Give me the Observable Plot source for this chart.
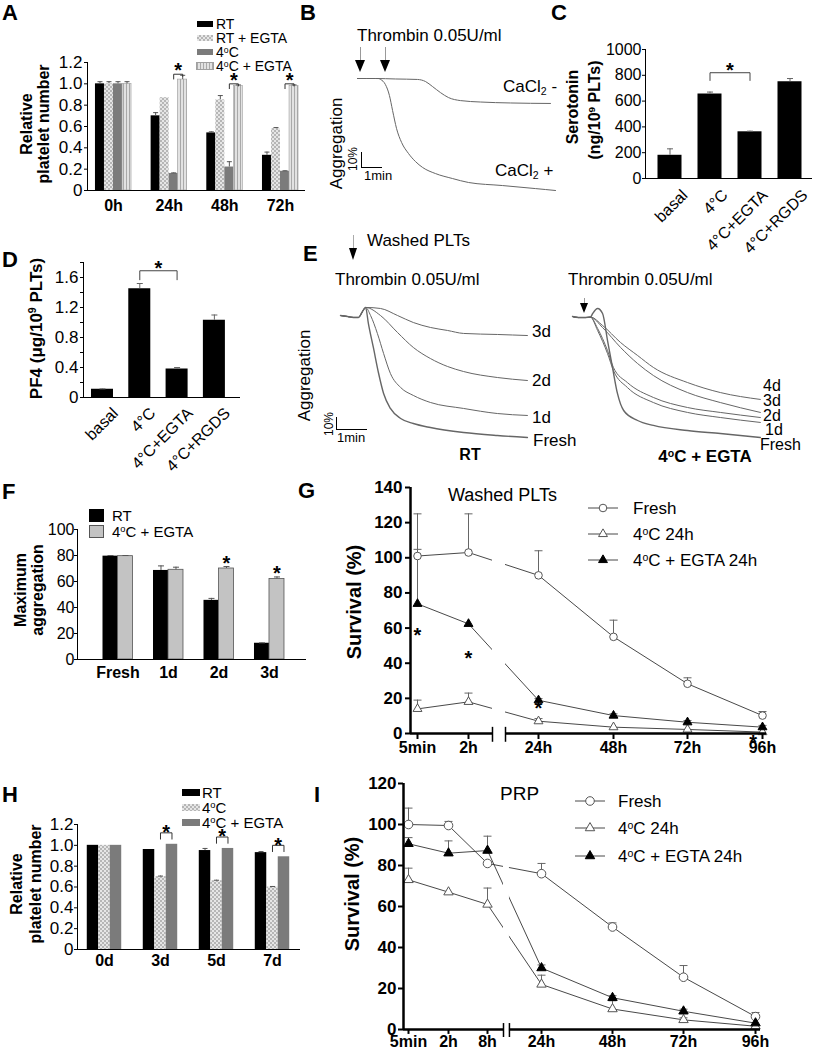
<!DOCTYPE html>
<html>
<head>
<meta charset="utf-8">
<script src="https://cdn.jsdelivr.net/npm/d3@7"></script>
<script src="https://cdn.jsdelivr.net/npm/@observablehq/plot@0.6"></script>
<style>
html,body{margin:0;padding:0;background:#fff;}
#fig{position:relative;width:816px;height:1050px;overflow:hidden;background:#fff;font-family:"Liberation Sans",Arial,Helvetica,sans-serif;color:#000;}
#fig .t{position:absolute;white-space:nowrap;}
#fig sup{font-size:0.62em;vertical-align:0.5em;line-height:0;}
#fig sub{font-size:0.62em;vertical-align:-0.28em;line-height:0;}
#fig svg{position:absolute;overflow:visible;max-width:none;background:transparent;}
.thick g[aria-label^="y-axis"] line,.thick g[aria-label^="y-axis"] path{stroke-width:2px;}
</style>
</head>
<body>
<div id="fig"></div>
<script>
// ================= DATA =================
// Panel A – relative platelet number
const aGroups = ["0h", "24h", "48h", "72h"];
const aSeriesLabels = ["RT", "RT + EGTA", "4°C", "4°C + EGTA"];
const aRT = [1.00, 0.70, 0.54, 0.33];
const aRTErr = [0.02, 0.03, 0.01, 0.03];
const aRTEGTA = [1.00, 0.87, 0.85, 0.58];
const aRTEGTAErr = [0.02, 0.005, 0.04, 0.01];
const a4C = [1.00, 0.16, 0.22, 0.18];
const a4CErr = [0.02, 0.005, 0.05, 0.005];
const a4CEGTA = [1.00, 1.04, 0.98, 0.98];
const a4CEGTAErr = [0.02, 0.04, 0.01, 0.01];
const aSig = [1, 2, 3];
const aYTicks = [0, 0.2, 0.4, 0.6, 0.8, 1.0, 1.2];

// Panel B – aggregation traces (t in min, aggregation in %)
const bMinusT = [0, 0.86, 1.81, 2.86, 3.24, 3.57, 3.95, 4.33, 4.90, 5.86, 7.29, 9.19];
const bMinusA = [0, 0, 0.3, 0.6, 1.9, 5.0, 8.8, 11.9, 13.8, 14.7, 15.3, 15.6];
const bPlusT = [0, 0.86, 1.0, 1.10, 1.33, 1.52, 1.67, 1.86, 2.10, 2.43, 2.76, 3.10, 3.71, 4.52, 5.29, 6.90, 8.48, 9.43];
const bPlusA = [0, 0, 0, 0.6, 3.8, 10.6, 20.0, 31.3, 40.0, 46.9, 51.9, 55.6, 59.4, 62.5, 65.0, 66.9, 68.8, 70.0];

// Panel C – serotonin
const cCats = ["basal", "4°C", "4°C+EGTA", "4°C+RGDS"];
const cVals = [180, 655, 362, 750];
const cErr = [50, 15, 5, 25];
const cYTicks = [0, 200, 400, 600, 800, 1000];

// Panel D – PF4
const dCats = ["basal", "4°C", "4°C+EGTA", "4°C+RGDS"];
const dVals = [0.11, 1.45, 0.38, 1.03];
const dErr = [0.005, 0.07, 0.02, 0.07];
const dYTicks = [0, 0.2, 0.4, 0.6, 0.8, 1.0, 1.2, 1.4, 1.6, 1.8];

// Panel E – aggregation traces, RT (left) and 4°C + EGTA (right)
const eLBaseT = [0, 0.23, 0.42, 0.58, 0.71, 0.81];
const eLBaseA = [0, 0.8, 1.5, 1.5, -3.1, -6.2];
const eL3T = [1.29, 1.84, 2.35, 2.90, 3.45, 3.97, 5.06, 6.03];
const eL3A = [-5.4, 0, 5.4, 9.2, 11.5, 13.8, 14.6, 15.4];
const eL2T = [1.29, 1.84, 2.35, 2.90, 3.45, 3.97, 5.06, 6.03];
const eL2A = [0, 13.1, 24.6, 33.1, 39.2, 43.1, 47.7, 50.0];
const eL1T = [0.97, 1.19, 1.39, 1.61, 1.94, 2.35, 2.90, 3.97, 5.06, 6.03];
const eL1A = [0, 13.8, 29.2, 44.6, 55.4, 61.5, 66.9, 71.5, 75.4, 76.9];
const eLFT = [0.90, 1.06, 1.23, 1.39, 1.61, 1.94, 2.35, 2.90, 3.97, 5.06, 6.03];
const eLFA = [6.2, 24.6, 44.6, 60.0, 71.5, 79.2, 83.1, 86.2, 90.0, 92.3, 93.8];
const eRBaseT = [0, 0.19, 0.42, 0.58];
const eRBaseA = [0, 0.8, 0.8, 0.5];
const eRFT = [0.65, 0.81, 0.97, 1.13, 1.29, 1.45, 1.65, 2.10, 2.61, 3.71, 4.77, 6.06];
const eRFA = [-2.3, -6.2, -2.3, 18.5, 39.2, 59.2, 72.3, 80.0, 83.8, 87.7, 90.0, 93.1];
const eR1T = [0.81, 1.13, 1.32, 1.77, 2.61, 3.71, 4.77, 6.06];
const eR1A = [10.8, 28.5, 41.5, 54.6, 66.2, 73.8, 77.7, 81.5];
const eR2T = [0.81, 1.13, 1.32, 1.77, 2.61, 3.71, 4.77, 6.06];
const eR2A = [9.2, 26.2, 39.2, 50.8, 62.3, 70.0, 73.8, 77.7];
const eR3T = [0.97, 1.55, 2.10, 2.61, 3.71, 4.77, 6.06];
const eR3A = [8.5, 23.8, 36.2, 45.4, 58.5, 66.2, 73.8];
const eR4T = [0.97, 1.55, 2.10, 2.61, 3.71, 4.77, 6.06];
const eR4A = [6.9, 20.0, 30.0, 39.2, 50.8, 58.5, 63.8];

// Panel F – maximum aggregation
const fGroups = ["Fresh", "1d", "2d", "3d"];
const fSeriesLabels = ["RT", "4°C + EGTA"];
const fRT = [79.5, 68.5, 45.5, 12.5];
const fRTErr = [0.5, 3.5, 1.5, 0.3];
const fEG = [79.5, 69, 70, 62];
const fEGErr = [0.5, 2, 1.5, 1.5];
const fSig = [2, 3];
const fYTicks = [0, 20, 40, 60, 80, 100];

// Panel G – survival, washed PLTs
const gTimes = [1 / 12, 2, 24, 48, 72, 96];
const gTimeLabels = ["5min", "2h", "24h", "48h", "72h", "96h"];
const gFresh = [101, 103, 90, 55, 28.3, 10.2];
const gFreshErr = [24, 22, 14, 9.5, 3.4, 2.3];
const g4C = [14, 18, 7, 3.6, 2.3, 0.8];
const g4CErr = [5, 5, 1.5, 0.5, 0.5, 0.3];
const g4CEGTA = [73.8, 62.4, 18.9, 10.2, 6.4, 3.6];
const g4CEGTAErr = [31, 0.5, 1, 1, 1, 1];
const gStarT = [1 / 12, 2, 24, 93];
const gStarV = [58.6, 45.5, 17, -2.3];
const gYTicks = [0, 20, 40, 60, 80, 100, 120, 140];
const survLabels = ["Fresh", "4°C 24h", "4°C + EGTA 24h"];

// Panel H – relative platelet number (days)
const hGroups = ["0d", "3d", "5d", "7d"];
const hSeriesLabels = ["RT", "4°C", "4°C + EGTA"];
const hRT = [1.00, 0.96, 0.95, 0.93];
const hRTErr = [0.005, 0.005, 0.02, 0.01];
const h4C = [1.00, 0.70, 0.66, 0.60];
const h4CErr = [0.005, 0.005, 0.005, 0.005];
const h4CEGTA = [1.00, 1.01, 0.97, 0.89];
const h4CEGTAErr = [0.005, 0.005, 0.005, 0.005];
const hSig = [1, 2, 3];
const hYTicks = [0, 0.2, 0.4, 0.6, 0.8, 1.0, 1.2];

// Panel I – survival, PRP
const iTimes = [1 / 12, 2, 8, 24, 48, 72, 96];
const iTimeLabels = ["5min", "2h", "8h", "24h", "48h", "72h", "96h"];
const iFresh = [100, 99.5, 81, 76, 50, 25.5, 6.3];
const iFreshErr = [8, 2, 1, 5, 2, 5.7, 2];
const i4C = [73, 67, 61, 22, 10, 4.7, 1.6];
const i4CErr = [5.7, 0.3, 8, 4.5, 4, 1, 0.5];
const i4CEGTA = [90.6, 86, 87.3, 30, 15.5, 8.9, 3.1];
const i4CEGTAErr = [3, 6, 7, 1.5, 1, 1, 0.5];
const iYTicks = [0, 20, 40, 60, 80, 100, 120];

// ================= HELPERS =================
const FONT = '"Liberation Sans", Arial, Helvetica, sans-serif';
const fig = document.getElementById("fig");
const deg = s => s.replace(/°/g, "<sup>o</sup>");
const fmtDec = d => (d === 0 ? "0" : d.toFixed(1));

function txt(html, x, y, o = {}) {
  const size = o.size || 16;
  const d = document.createElement("div");
  d.className = "t";
  d.innerHTML = html;
  d.style.left = x + "px";
  d.style.top = (y - size / 2) + "px";
  d.style.fontSize = size + "px";
  d.style.lineHeight = size + "px";
  d.style.fontWeight = o.weight || "normal";
  const tx = o.anchor === "middle" ? "-50%" : o.anchor === "end" ? "-100%" : "0";
  d.style.transform = `translateX(${tx})` + (o.rotate ? ` rotate(${o.rotate}deg)` : "");
  fig.appendChild(d);
  return d;
}
function box(x, y, w, h, css) {
  const d = document.createElement("div");
  d.style.cssText = `position:absolute;left:${x}px;top:${y}px;width:${w}px;height:${h}px;${css || ""}`;
  fig.appendChild(d);
  return d;
}
function arrow(x, y0, tip, headH, headW, lineColor) {
  if (tip - headH > y0) box(x - 0.5, y0, 1, tip - headH - y0 + 1, `background:${lineColor || "#999"}`);
  box(x - headW / 2, tip - headH, 0, 0,
    `border-left:${headW / 2}px solid transparent;border-right:${headW / 2}px solid transparent;border-top:${headH}px solid #000;`);
}
function scaleBar(x, yTop, yBottom, xRight) {
  box(x, yTop, 1.2, yBottom - yTop, "background:#000");
  box(x, yBottom - 1.2, xRight - x, 1.2, "background:#000");
}
function mount(svg, L, T, cls) {
  svg.style.left = L + "px";
  svg.style.top = T + "px";
  svg.style.background = "transparent";
  svg.style.overflow = "visible";
  svg.style.maxWidth = "none";
  if (cls) svg.classList.add(cls);
  fig.appendChild(svg);
  return svg;
}
function addPatterns(svg, p) {
  const defs = d3.select(svg).insert("defs", ":first-child");
  const ck = defs.append("pattern").attr("id", p + "chk").attr("patternUnits", "userSpaceOnUse").attr("width", 4).attr("height", 4);
  ck.append("rect").attr("width", 4).attr("height", 4).attr("fill", "#e6e6e6");
  ck.append("rect").attr("width", 2).attr("height", 2).attr("fill", "#b6b6b6");
  ck.append("rect").attr("x", 2).attr("y", 2).attr("width", 2).attr("height", 2).attr("fill", "#b6b6b6");
  const st = defs.append("pattern").attr("id", p + "str").attr("patternUnits", "userSpaceOnUse").attr("width", 3).attr("height", 4);
  st.append("rect").attr("width", 3).attr("height", 4).attr("fill", "#e2e2e2");
  st.append("rect").attr("width", 1).attr("height", 4).attr("fill", "#a9a9a9");
}
const capSym = {draw(ctx, size) { const r = Math.sqrt(size / Math.PI); ctx.moveTo(-r, 0); ctx.lineTo(r, 0); }};
const baseStyle = (extra = {}) => Object.assign({fontFamily: FONT, fontSize: "17px", color: "#000", background: "transparent", overflow: "visible"}, extra);

function barRows(series, w) {
  const n = series.length, rows = [];
  series.forEach((s, si) => s.vals.forEach((v, g) => {
    const c = g + (si - (n - 1) / 2) * w;
    rows.push({si, g, c, x1: c - w / 2, x2: c + w / 2, v, e: s.errs ? s.errs[g] : 0});
  }));
  return rows;
}
function barMarks(series, rows, capR, errColor) {
  const m = series.map((s, si) => Plot.rect(rows.filter(d => d.si === si),
    {x1: "x1", x2: "x2", y1: () => 0, y2: "v", fill: s.fill, stroke: s.stroke || "none", strokeWidth: s.sw || 1}));
  const er = rows.filter(d => d.e > 0.006 * (d.v || 1));
  m.push(Plot.ruleX(er, {x: "c", y1: "v", y2: d => d.v + d.e, stroke: errColor, strokeWidth: 1}));
  m.push(Plot.dot(er, {x: "c", y: d => d.v + d.e, r: capR, symbol: capSym, stroke: errColor, fill: "none", strokeWidth: 1}));
  return m;
}
function xLabels(labels, dy, size) {
  return Plot.text(labels, {x: (d, i) => i, y: () => 0, dy, text: d => d, fontWeight: "bold", fontSize: size});
}
function pts(t, a) { return t.map((x, i) => ({t: x, a: a[i]})); }

// ================= PANEL A =================
const aW = 0.162;
const aSer = [
  {vals: aRT, errs: aRTErr, fill: "#000"},
  {vals: aRTEGTA, errs: aRTEGTAErr, fill: "url(#Achk)"},
  {vals: a4C, errs: a4CErr, fill: "#7b7b7b"},
  {vals: a4CEGTA, errs: a4CEGTAErr, fill: "url(#Astr)", stroke: "#a0a0a0", sw: 0.6}
];
const aRows = barRows(aSer, aW);
const aBr = [], aStars = [];
aSig.forEach(g => {
  const xa = g + 0.5 * aW, xb = g + 1.5 * aW;
  const top = a4CEGTA[g] + a4CEGTAErr[g] + 0.01;
  aBr.push({k: g, x: xa, y: top - 0.045}, {k: g, x: xa, y: top}, {k: g, x: xb, y: top}, {k: g, x: xb, y: top - 0.02});
  aStars.push({x: g + aW, y: top + 0.08});
});
const svgA = Plot.plot({
  width: 310, height: 215, marginLeft: 87, marginRight: 5, marginTop: 62, marginBottom: 25,
  style: baseStyle(),
  x: {domain: [-0.467, 3.449], axis: null},
  y: {domain: [0, 1.2], ticks: aYTicks, tickFormat: fmtDec, tickSize: 3, tickPadding: 2, line: true, label: null},
  marks: [
    ...barMarks(aSer, aRows, 2.5, "#555"),
    Plot.ruleY([0]),
    Plot.line(aBr, {x: "x", y: "y", z: "k", stroke: "#333", strokeWidth: 1}),
    Plot.text(aStars, {x: "x", y: "y", text: () => "*", fontSize: 20, fontWeight: "bold", dy: 5}),
    xLabels(aGroups, 15, 16)
  ]
});
addPatterns(svgA, "A");
mount(svgA, 0, 0);

// ================= PANEL B =================
const traceStyle = {x: "t", y: "a", stroke: "#666", strokeWidth: 1, curve: "monotone-x"};
const svgB = Plot.plot({
  width: 200, height: 125, margin: 0,
  x: {domain: [0, 200 / 21], axis: null},
  y: {domain: [(195 - 78) / 1.6, (70 - 78) / 1.6], axis: null},
  marks: [
    Plot.line(pts(bMinusT, bMinusA), traceStyle),
    Plot.line(pts(bPlusT, bPlusA), traceStyle)
  ]
});
mount(svgB, 357, 70);

// ================= PANEL C =================
const cSer = [{vals: cVals, errs: cErr, fill: "#000"}];
const cRows = barRows(cSer, 0.6);
const cTop = Math.max(cVals[1] + cErr[1], cVals[2] + cErr[2]) + 150;
const cBr = [{x: 1, y: cTop - 60}, {x: 1, y: cTop}, {x: 2, y: cTop}, {x: 2, y: cTop - 60}];
const svgC = Plot.plot({
  width: 256, height: 260, marginLeft: 85, marginRight: 4, marginTop: 49, marginBottom: 82,
  style: baseStyle({fontSize: "16px"}),
  x: {domain: [-0.6125, 3.5625], axis: null},
  y: {domain: [0, 1000], ticks: cYTicks, tickFormat: d => String(d), tickSize: 3, tickPadding: 1, line: true, label: null},
  marks: [
    ...barMarks(cSer, cRows, 3, "#666"),
    Plot.ruleY([0]),
    Plot.line(cBr, {x: "x", y: "y", stroke: "#444", strokeWidth: 1}),
    Plot.text([0], {x: () => 1.5, y: () => cTop + 54, text: () => "*", fontSize: 20, fontWeight: "bold", dy: 5}),
    Plot.text(cCats, {x: (d, i) => i, y: () => 0, text: d => d, rotate: -45, textAnchor: "end", dx: 15, dy: 14, fontSize: 16})
  ]
});
mount(svgC, 560, 0);

// ================= PANEL D =================
const dSer = [{vals: dVals, errs: dErr, fill: "#000"}];
const dRows = barRows(dSer, 0.59);
const dTop = Math.max(dVals[1] + dErr[1], dVals[2] + dErr[2]) + 0.17;
const dBr = [{x: 1, y: dTop - 0.12}, {x: 1, y: dTop}, {x: 2, y: dTop}, {x: 2, y: dTop - 0.12}];
const svgD = Plot.plot({
  width: 245, height: 300, marginLeft: 83, marginRight: 5, marginTop: 72, marginBottom: 93,
  style: baseStyle(),
  x: {domain: [-0.509, 3.70], axis: null},
  y: {domain: [0, 1.8], ticks: dYTicks, tickFormat: d => (Math.round(d * 10) % 4 === 0 ? fmtDec(d) : ""), tickSize: 3, tickPadding: 2, line: true, label: null},
  marks: [
    ...barMarks(dSer, dRows, 3, "#666"),
    Plot.ruleY([0]),
    Plot.line(dBr, {x: "x", y: "y", stroke: "#444", strokeWidth: 1}),
    Plot.text([0], {x: () => 1.5, y: () => dTop + 0.09, text: () => "*", fontSize: 20, fontWeight: "bold", dy: 5}),
    Plot.text(dCats, {x: (d, i) => i, y: () => 0, text: d => d, rotate: -45, textAnchor: "end", dx: 13, dy: 13, fontSize: 16})
  ]
});
mount(svgD, 0, 190);

// ================= PANEL E =================
const eLeft = [[eL3T, eL3A], [eL2T, eL2A], [eL1T, eL1A], [eLFT, eLFA]];
const svgEL = Plot.plot({
  width: 190, height: 145, margin: 0,
  x: {domain: [0, 190 / 31], axis: null},
  y: {domain: [(445 - 315) / 1.3, (300 - 315) / 1.3], axis: null},
  marks: eLeft.map(([ts, as], k) => Plot.line(pts(eLBaseT.concat(ts), eLBaseA.concat(as)),
    Object.assign({}, traceStyle, {strokeWidth: k === 3 ? 1.4 : 1})))
});
mount(svgEL, 340, 300);
const eRight = [[eR4T, eR4A], [eR3T, eR3A], [eR2T, eR2A], [eR1T, eR1A], [eRFT, eRFA]];
const svgER = Plot.plot({
  width: 190, height: 145, margin: 0,
  x: {domain: [0, 190 / 31], axis: null},
  y: {domain: [(445 - 316) / 1.3, (300 - 316) / 1.3], axis: null},
  marks: eRight.map(([ts, as], k) => Plot.line(pts(eRBaseT.concat(ts), eRBaseA.concat(as)),
    Object.assign({}, traceStyle, {strokeWidth: k === 4 ? 1.4 : 1})))
});
mount(svgER, 572, 300);

// ================= PANEL F =================
const fW = 0.297;
const fSer = [
  {vals: fRT, errs: fRTErr, fill: "#000"},
  {vals: fEG, errs: fEGErr, fill: "#c3c3c3", stroke: "#555", sw: 0.8}
];
const fRows = barRows(fSer, fW);
const fStars = fSig.map(g => ({x: g + 0.5 * fW, y: fEG[g] + fEGErr[g] + 6.5}));
const svgF = Plot.plot({
  width: 310, height: 185, marginLeft: 77, marginRight: 4, marginTop: 29, marginBottom: 26,
  style: baseStyle({fontSize: "16px"}),
  x: {domain: [-0.802, 3.733], axis: null},
  y: {domain: [0, 100], ticks: fYTicks, tickFormat: d => String(d), tickSize: 3, tickPadding: 0, line: true, label: null},
  marks: [
    ...barMarks(fSer, fRows, 3, "#555"),
    Plot.ruleY([0]),
    Plot.text(fStars, {x: "x", y: "y", text: () => "*", fontSize: 20, fontWeight: "bold", dy: 5}),
    xLabels(fGroups, 13, 16)
  ]
});
mount(svgF, 0, 500);

// ================= SURVIVAL PANELS (G, I) =================
function survMarks(times, series, brk, capR, yGap) {
  const m = [];
  series.forEach(s => m.push(Plot.line(times.map((t, i) => ({t, v: s.vals[i]})), {x: "t", y: "v", stroke: "#333", strokeWidth: 0.9})));
  m.push(Plot.rect([0], {x1: () => brk[0], x2: () => brk[1], y1: () => yGap[0], y2: () => yGap[1], fill: "white"}));
  series.forEach(s => {
    const p = times.map((t, i) => ({t, v: s.vals[i], e: s.errs[i]})).filter(d => d.e > 0.6);
    m.push(Plot.ruleX(p, {x: "t", y1: "v", y2: d => d.v + d.e, stroke: "#666", strokeWidth: 1}));
    m.push(Plot.dot(p, {x: "t", y: d => d.v + d.e, r: capR, symbol: capSym, stroke: "#666", fill: "none", strokeWidth: 1}));
  });
  series.forEach(s => m.push(Plot.dot(times.map((t, i) => ({t, v: s.vals[i]})),
    {x: "t", y: "v", symbol: s.sym, r: s.r, fill: s.fill, stroke: s.stroke, strokeWidth: 1})));
  return m;
}

// ---- G ----
const gBreak = [9.54, 13.63];
const gXDomain = [-0.18, 1 / 12, 2, 24, 48, 72, 96, 97.3];
const gXRange = [110, 117, 168, 238, 313, 387, 462, 466];
const gSer = [
  {vals: gFresh, errs: gFreshErr, sym: "circle", fill: "white", stroke: "#555", r: 3.8},
  {vals: g4C, errs: g4CErr, sym: "triangle", fill: "white", stroke: "#555", r: 3.3},
  {vals: g4CEGTA, errs: g4CEGTAErr, sym: "triangle", fill: "#000", stroke: "#000", r: 3.3}
];
const svgG = Plot.plot({
  width: 516, height: 290, marginLeft: 110, marginRight: 40, marginTop: 17, marginBottom: 27,
  style: baseStyle({fontWeight: "bold"}),
  x: {type: "linear", domain: gXDomain, range: gXRange, axis: null},
  y: {domain: [0, 140], ticks: gYTicks, tickFormat: d => String(d), tickSize: 5, tickPadding: 3, line: false, label: null},
  marks: [
    ...survMarks(gTimes, gSer, gBreak, 4, [-3, 140]),
    Plot.ruleX([0], {x: () => gXDomain[0], y1: () => 0, y2: () => 140, strokeWidth: 2.5}),
    Plot.ruleY([0], {x1: () => gXDomain[0], x2: () => gBreak[0], strokeWidth: 2.5}),
    Plot.ruleY([0], {x1: () => gBreak[1], x2: () => gXDomain[gXDomain.length - 1], strokeWidth: 2.5}),
    Plot.ruleX(gTimes, {y1: () => 0, y2: () => -3.4, strokeWidth: 2}),
    Plot.ruleX(gBreak, {y1: () => -5, y2: () => 3.5, strokeWidth: 1.5}),
    Plot.text(gTimeLabels, {x: (d, i) => gTimes[i], y: () => 0, dy: 14, text: d => d, fontWeight: "bold", fontSize: 16}),
    Plot.text(gStarT, {x: d => d, y: (d, i) => gStarV[i], text: () => "*", fontSize: 20, fontWeight: "bold", dy: 5})
  ]
});
mount(svgG, 300, 470, "thick");

// ---- I ----
const iBreak = [12.74, 14.5];
const iXDomain = [-0.157, 1 / 12, 2, 8, 24, 48, 72, 96, 97.7];
const iXRange = [103, 108, 148, 187, 241, 312, 383, 455, 460];
const iSer = [
  {vals: iFresh, errs: iFreshErr, sym: "circle", fill: "white", stroke: "#555", r: 4.3},
  {vals: i4C, errs: i4CErr, sym: "triangle", fill: "white", stroke: "#555", r: 3.5},
  {vals: i4CEGTA, errs: i4CEGTAErr, sym: "triangle", fill: "#000", stroke: "#000", r: 3.5}
];
const svgI = Plot.plot({
  width: 516, height: 280, marginLeft: 103, marginRight: 40, marginTop: 13, marginBottom: 21,
  style: baseStyle({fontWeight: "bold"}),
  x: {type: "linear", domain: iXDomain, range: iXRange, axis: null},
  y: {domain: [0, 120], ticks: iYTicks, tickFormat: d => String(d), tickSize: 5, tickPadding: 2, line: false, label: null},
  marks: [
    ...survMarks(iTimes, iSer, iBreak, 4, [-3, 120]),
    Plot.ruleX([0], {x: () => iXDomain[0], y1: () => 0, y2: () => 120, strokeWidth: 2.5}),
    Plot.ruleY([0], {x1: () => iXDomain[0], x2: () => iBreak[0], strokeWidth: 2.5}),
    Plot.ruleY([0], {x1: () => iBreak[1], x2: () => iXDomain[iXDomain.length - 1], strokeWidth: 2.5}),
    Plot.ruleX(iTimes, {y1: () => 0, y2: () => -2.4, strokeWidth: 2}),
    Plot.ruleX(iBreak, {y1: () => -3.9, y2: () => 2.9, strokeWidth: 1.5}),
    Plot.text(iTimeLabels, {x: (d, i) => iTimes[i], y: () => 0, dy: 12.5, text: d => d, fontWeight: "bold", fontSize: 16})
  ]
});
mount(svgI, 300, 770, "thick");

// ================= PANEL H =================
const hW = 0.205;
const hSer = [
  {vals: hRT, errs: hRTErr, fill: "#000"},
  {vals: h4C, errs: h4CErr, fill: "url(#Hchk)"},
  {vals: h4CEGTA, errs: h4CEGTAErr, fill: "#7b7b7b"}
];
const hRows = barRows(hSer, hW);
const hBr = [], hStars = [];
hSig.forEach(g => {
  const xa = g, xb = g + hW, top = h4CEGTA[g] + 0.11;
  hBr.push({k: g, x: xa, y: top - 0.06}, {k: g, x: xa, y: top}, {k: g, x: xb, y: top}, {k: g, x: xb, y: top - 0.06});
  hStars.push({x: g + hW / 2, y: top + 0.05});
});
const svgH = Plot.plot({
  width: 305, height: 170, marginLeft: 77, marginRight: 5, marginTop: 24, marginBottom: 21,
  style: baseStyle(),
  x: {domain: [-0.482, 3.5], axis: null},
  y: {domain: [0, 1.2], ticks: hYTicks, tickFormat: fmtDec, tickSize: 3, tickPadding: 1, line: true, label: null},
  marks: [
    ...barMarks(hSer, hRows, 2.5, "#555"),
    Plot.ruleY([0]),
    Plot.line(hBr, {x: "x", y: "y", z: "k", stroke: "#333", strokeWidth: 1}),
    Plot.text(hStars, {x: "x", y: "y", text: () => "*", fontSize: 20, fontWeight: "bold", dy: 5}),
    xLabels(hGroups, 11, 16)
  ]
});
addPatterns(svgH, "H");
mount(svgH, 0, 800);

// ================= TEXT, LEGENDS, ANNOTATIONS =================
[["A", 2, 12.5], ["B", 300, 12.5], ["C", 551, 12.5], ["D", 2, 260], ["E", 303, 254],
 ["F", 2, 492], ["G", 298, 491], ["H", 2, 795], ["I", 314, 795]]
  .forEach(([l, x, y]) => txt(l, x, y, {size: 22, weight: "bold"}));

// A legend + title
const aSw = ["background:#000", "background:repeating-conic-gradient(#b6b6b6 0 25%,#e6e6e6 0 50%) 0 0/4px 4px",
  "background:#7b7b7b", "background:repeating-linear-gradient(90deg,#a9a9a9 0 1px,#e2e2e2 1px 3px);outline:0.6px solid #a0a0a0"];
[24, 38, 52, 66].forEach((y, i) => {
  box(197, y - 3, 16, 6, aSw[i]);
  txt(deg(aSeriesLabels[i]), 216, y, {size: 14});
});
txt("Relative", 27, 124, {size: 16, weight: "bold", anchor: "middle", rotate: -90});
txt("platelet number", 44, 124, {size: 16, weight: "bold", anchor: "middle", rotate: -90});

// B annotations
txt("Thrombin 0.05U/ml", 357, 35, {size: 17});
arrow(360, 47, 72, 12, 11, "#999");
arrow(385, 47, 72, 12, 11, "#999");
txt("CaCl<sub>2</sub> -", 503, 86, {size: 17});
txt("CaCl<sub>2</sub> +", 495, 170, {size: 17});
txt("Aggregation", 336, 143, {size: 17, anchor: "middle", rotate: -90});
scaleBar(361, 152, 168, 382);
txt("10%", 353, 159, {size: 12, anchor: "middle", rotate: -90});
txt("1min", 364, 175, {size: 13});

// C titles
txt("Serotonin", 573, 107, {size: 16, weight: "bold", anchor: "middle", rotate: -90});
txt("(ng/10<sup>9</sup> PLTs)", 595, 110, {size: 16, weight: "bold", anchor: "middle", rotate: -90});

// D title
txt("PF4 (μg/10<sup>9</sup> PLTs)", 36, 328, {size: 17, weight: "bold", anchor: "middle", rotate: -90});

// E annotations
arrow(353, 235, 260, 12, 9, "#aaa");
txt("Washed PLTs", 367, 240, {size: 17});
txt("Thrombin 0.05U/ml", 335, 279, {size: 17});
txt("Thrombin 0.05U/ml", 568, 279, {size: 17});
arrow(584, 298, 313, 10, 9, "#999");
txt("Aggregation", 304, 375, {size: 17, anchor: "middle", rotate: -90});
scaleBar(336, 417, 430, 367);
txt("10%", 329, 424, {size: 12, anchor: "middle", rotate: -90});
txt("1min", 337, 437, {size: 13});
[["3d", 532, 331], ["2d", 532, 380], ["1d", 532, 417], ["Fresh", 533, 440]].forEach(([s, x, y]) => txt(s, x, y, {size: 17}));
[["4d", 763, 386], ["3d", 763, 401], ["2d", 763, 416], ["1d", 765, 430], ["Fresh", 760, 445]].forEach(([s, x, y]) => txt(s, x, y, {size: 16}));
txt("RT", 470, 455, {size: 16, weight: "bold", anchor: "middle"});
txt(deg("4°C + EGTA"), 705, 456, {size: 17, weight: "bold", anchor: "middle"});

// F legend + title
box(89, 509, 15, 13, "background:#000");
box(89, 525, 15, 13, "background:#c3c3c3;box-sizing:border-box;border:1px solid #555");
txt(deg(fSeriesLabels[0]), 112, 515.5, {size: 15});
txt(deg(fSeriesLabels[1]), 112, 531.5, {size: 15});
txt("Maximum", 21, 590, {size: 16, weight: "bold", anchor: "middle", rotate: -90});
txt("aggregation", 38, 590, {size: 16, weight: "bold", anchor: "middle", rotate: -90});

// survival legends
function legendIcon(x1, x2, y, sym, fill, stroke, r) {
  const w = x2 - x1;
  const s = d3.create("svg").attr("width", w + 10).attr("height", 16)
    .style("left", (x1 - 5) + "px").style("top", (y - 8) + "px");
  s.append("line").attr("x1", 5).attr("x2", w + 5).attr("y1", 8).attr("y2", 8).attr("stroke", "#333").attr("stroke-width", 0.9);
  s.append("path").attr("transform", `translate(${w / 2 + 5},8)`)
    .attr("d", d3.symbol(sym === "circle" ? d3.symbolCircle : d3.symbolTriangle, r * r * Math.PI)())
    .attr("fill", fill).attr("stroke", stroke);
  fig.appendChild(s.node());
}
txt("Washed PLTs", 448, 495, {size: 18});
[508, 534, 560].forEach((y, i) => {
  legendIcon(588, 618, y, gSer[i].sym, gSer[i].fill, gSer[i].stroke, gSer[i].r);
  txt(deg(survLabels[i]), 633, y, {size: 17});
});
txt("Survival (%)", 354, 602, {size: 20, weight: "bold", anchor: "middle", rotate: -90});

txt("PRP", 500, 793, {size: 19});
[801, 828, 856].forEach((y, i) => {
  legendIcon(575, 605, y, iSer[i].sym, iSer[i].fill, iSer[i].stroke, iSer[i].r);
  txt(deg(survLabels[i]), 618, y, {size: 17});
});
txt("Survival (%)", 352, 894, {size: 20, weight: "bold", anchor: "middle", rotate: -90});

// H legend + title
const hSw = ["background:#000", "background:repeating-conic-gradient(#b6b6b6 0 25%,#e6e6e6 0 50%) 0 0/4px 4px", "background:#7b7b7b"];
[792, 807, 822].forEach((y, i) => {
  box(182, y - 3.5, 18, 7, hSw[i]);
  txt(deg(hSeriesLabels[i]), 202, y, {size: 15});
});
txt("Relative", 17, 884, {size: 16, weight: "bold", anchor: "middle", rotate: -90});
txt("platelet number", 36, 884, {size: 16, weight: "bold", anchor: "middle", rotate: -90});
</script>
</body>
</html>
